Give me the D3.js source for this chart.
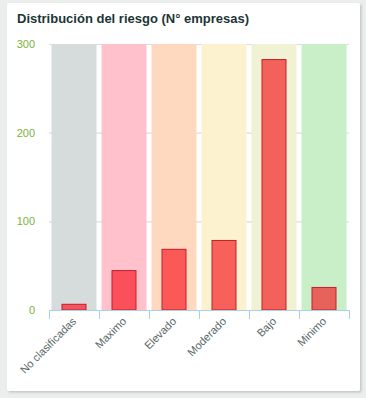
<!DOCTYPE html>
<html><head><meta charset="utf-8">
<script src="https://cdn.jsdelivr.net/npm/d3@7"></script>
<style>html,body{margin:0;padding:0;background:#eceeed;}svg{display:block;}</style>
</head><body>
<script>
const categories = ["No clasificadas","Maximo","Elevado","Moderado","Bajo","Minimo"];
const values = [7,45,69,79,283,26];
const bandColors = ["#d6dbdb","#ffc1cc","#ffd8c0","#fdf2d0","#f1f2d4","#c8efc8"];
const barColors = ["#f2555e","#fb505c","#fb5858","#f8605a","#f2625a","#e6625a"];
const yTicks = [0,100,200,300];
const title = "Distribución del riesgo (N° empresas)";

const W=366,H=398;
const svg=d3.select("body").append("svg").attr("width",W).attr("height",H);
const defs=svg.append("defs");
const f=defs.append("filter").attr("id","sh").attr("x","-5%").attr("y","-5%").attr("width","110%").attr("height","110%");
f.append("feDropShadow").attr("dx",1.5).attr("dy",1.5).attr("stdDeviation",1.2).attr("flood-color","#000").attr("flood-opacity",0.18);
svg.append("rect").attr("x",7).attr("y",3).attr("width",353).attr("height",388).attr("fill","#fff").attr("rx",2).attr("filter","url(#sh)");

svg.append("text").attr("x",17).attr("y",23).text(title)
  .attr("font-family","Liberation Sans, Arial, sans-serif").attr("font-weight","bold").attr("font-size",13).attr("fill","#1c3636");

const x=d3.scaleBand().domain(categories).range([49,349]).padding(0);
const xb=d3.scaleBand().domain(categories).range([49,349]).paddingInner(0.5).paddingOuter(0.25);
const y=d3.scaleLinear().domain([0,300]).range([310,44]);

// gridlines
svg.append("g").selectAll("line").data(yTicks).join("line")
  .attr("x1",49).attr("x2",349).attr("y1",d=>y(d)+0.5).attr("y2",d=>y(d)+0.5)
  .attr("stroke","#dcdcdc").attr("stroke-width",1.2);

// bands
svg.append("g").selectAll("rect").data(categories).join("rect")
  .attr("x",d=>x(d)+2.5).attr("width",x.bandwidth()-5)
  .attr("y",y(300)).attr("height",y(0)-y(300))
  .attr("fill",(d,i)=>bandColors[i]);

// bars
svg.append("g").selectAll("rect").data(values).join("rect")
  .attr("x",(d,i)=>xb(categories[i])+0.5).attr("width",xb.bandwidth()-1)
  .attr("y",d=>y(d)+0.5).attr("height",d=>y(0)-y(d)-0.5)
  .attr("fill",(d,i)=>barColors[i]).attr("stroke","#c41e28").attr("stroke-width",1);

// y axis labels
svg.append("g").selectAll("text").data(yTicks).join("text")
  .attr("x",35).attr("y",d=>y(d)+4).attr("text-anchor","end").text(d=>d)
  .attr("font-family","Liberation Sans, Arial, sans-serif").attr("font-size",11).attr("fill","#7ab33c");

// x axis
const xa=svg.append("g").attr("transform","translate(0,310)")
  .call(d3.axisBottom(x).tickSize(0).tickFormat(""));
xa.select(".domain").attr("stroke","#a9d0ea").attr("d","M49.5,0.5H349.5");
const bounds=categories.map(c=>x(c)).concat([349]);
xa.append("g").selectAll("line").data(bounds).join("line")
  .attr("x1",d=>Math.round(d)+0.5).attr("x2",d=>Math.round(d)+0.5).attr("y1",0).attr("y2",9)
  .attr("stroke","#a9d0ea");
xa.selectAll(".tick text").remove();
svg.append("g").selectAll("text").data(categories).join("text")
  .attr("transform",d=>`translate(${x(d)+x.bandwidth()/2+3},${322}) rotate(-45)`)
  .attr("text-anchor","end").text(d=>d)
  .attr("font-family","Liberation Sans, Arial, sans-serif").attr("font-size",11).attr("fill","#566666");
</script>
</body></html>
